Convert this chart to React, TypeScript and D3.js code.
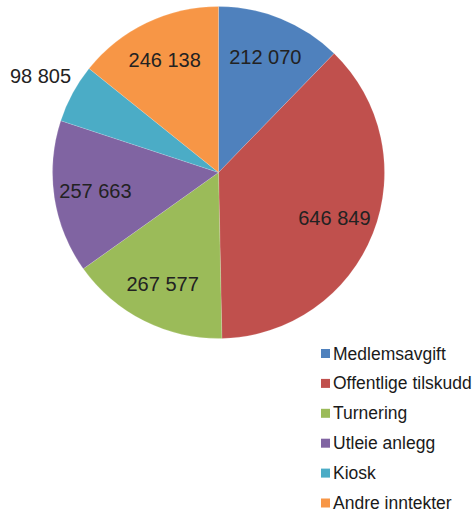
import { useEffect, useRef } from "react";
import * as d3 from "d3";

// Inntekter fordelt på kilde, sektordiagram med verdietiketter og forklaring.
const categories = [
  "Medlemsavgift",
  "Offentlige tilskudd",
  "Turnering",
  "Utleie anlegg",
  "Kiosk",
  "Andre inntekter",
];
const values = [212070, 646849, 267577, 257663, 98805, 246138];
const valueLabels = ["212 070", "646 849", "267 577", "257 663", "98 805", "246 138"];
const colors = ["#4f81bd", "#c0504d", "#9bbb59", "#8064a2", "#4bacc6", "#f79646"];

const W = 475;
const H = 512;
const CX = 218.5;
const CY = 172.5;
const R = 166;
const FONT = "'Liberation Sans', Arial, sans-serif";

export default function App() {
  const svgRef = useRef<SVGSVGElement>(null);

  useEffect(() => {
    const svg = d3.select(svgRef.current);
    svg.selectAll("*").remove();

    const data = values.map((v, i) => ({ v, i }));
    const pie = d3
      .pie<{ v: number; i: number }>()
      .value((d) => d.v)
      .sort(null);
    const arcs = pie(data);

    const arc = d3
      .arc<d3.PieArcDatum<{ v: number; i: number }>>()
      .innerRadius(0)
      .outerRadius(R);

    // etiketter inne i sektorene, men den lille Kiosk-sektoren får etikett utenfor
    const labelArc = d3
      .arc<d3.PieArcDatum<{ v: number; i: number }>>()
      .innerRadius(R * 0.75)
      .outerRadius(R * 0.75);
    const outsideArc = d3
      .arc<d3.PieArcDatum<{ v: number; i: number }>>()
      .innerRadius(R * 1.22)
      .outerRadius(R * 1.22);

    const g = svg.append("g").attr("transform", `translate(${CX},${CY})`);

    g.selectAll("path")
      .data(arcs)
      .join("path")
      .attr("d", arc)
      .attr("fill", (d) => colors[d.data.i])
      .attr("stroke", "rgba(255,255,255,0.25)")
      .attr("stroke-width", 0.6);

    g.selectAll("text.val")
      .data(arcs)
      .join("text")
      .attr("class", "val")
      .attr("transform", (d) => {
        const share = (d.endAngle - d.startAngle) / (2 * Math.PI);
        const [x, y] = share < 0.08 ? outsideArc.centroid(d) : labelArc.centroid(d);
        return `translate(${x},${y})`;
      })
      .attr("text-anchor", "middle")
      .attr("dominant-baseline", "central")
      .attr("font-family", FONT)
      .attr("font-size", 20)
      .attr("fill", "#222")
      .text((d) => valueLabels[d.data.i]);

    // forklaring
    const y = d3
      .scaleLinear()
      .domain([0, categories.length - 1])
      .range([353.5, 503]);

    const leg = svg
      .append("g")
      .selectAll("g")
      .data(categories)
      .join("g")
      .attr("transform", (_d, i) => `translate(321,${y(i)})`);

    leg
      .append("rect")
      .attr("x", 0)
      .attr("y", -4.5)
      .attr("width", 9)
      .attr("height", 9)
      .attr("fill", (_d, i) => colors[i]);

    leg
      .append("text")
      .attr("x", 12)
      .attr("dominant-baseline", "central")
      .attr("font-family", FONT)
      .attr("font-size", 17.5)
      .attr("fill", "#1a1a1a")
      .text((d) => d);
  }, []);

  return (
    <svg
      ref={svgRef}
      width={W}
      height={H}
      style={{ position: "absolute", left: 0, top: 0, background: "#fff" }}
    />
  );
}
